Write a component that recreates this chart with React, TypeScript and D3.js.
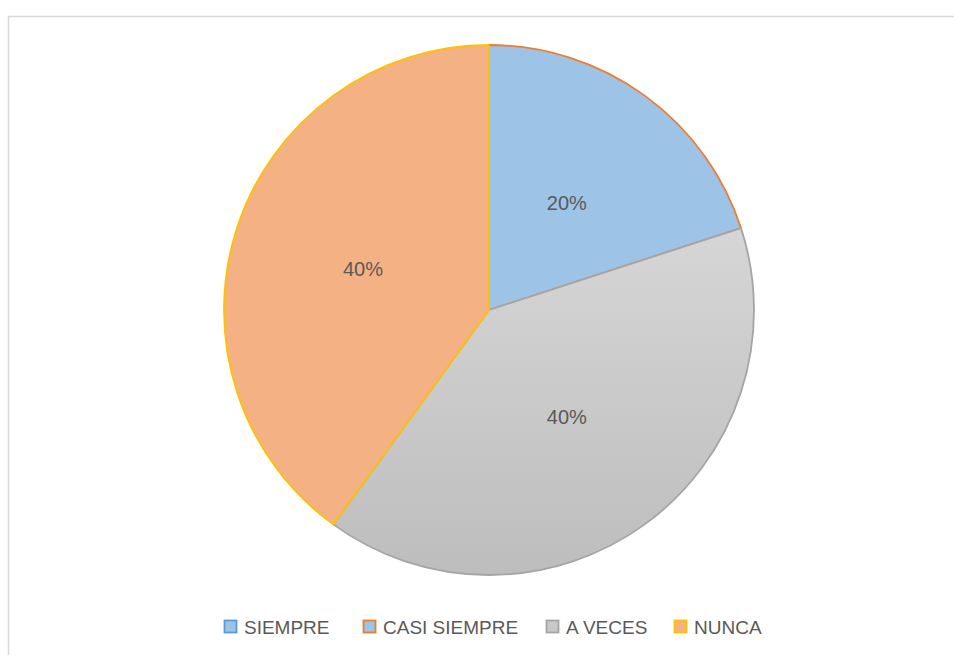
import React from "react";
import * as d3 from "d3";

const categories = ["SIEMPRE", "CASI SIEMPRE", "A VECES", "NUNCA"];
const values = [0, 20, 40, 40];
const labels = ["", "20%", "40%", "40%"];
const fills = ["#9dc3e6", "#9dc3e6", "url(#grayGrad)", "#f4b183"];
const strokes = ["#5b9bd5", "#ed7d31", "#a5a5a5", "#ffc000"];
const legendFills = ["#9dc3e6", "#9dc3e6", "#c9c9c9", "#f4b183"];

const W = 954;
const H = 655;
const cx = 489;
const cy = 310;
const R = 265;

export default function App() {
  const pie = d3.pie<number>().sort(null).value((d) => d)(values);
  const arc = d3.arc<d3.PieArcDatum<number>>().innerRadius(0).outerRadius(R);
  const labelArc = d3
    .arc<d3.PieArcDatum<number>>()
    .innerRadius(R * 0.5)
    .outerRadius(R * 0.5);

  const legendX = [224, 363, 546, 674];
  const legendY = 627;
  const font = "'Liberation Sans', Arial, sans-serif";

  return (
    <svg
      width={W}
      height={H}
      style={{ position: "absolute", left: 0, top: 0 }}
      fontFamily={font}
    >
      <defs>
        <linearGradient
          id="grayGrad"
          gradientUnits="userSpaceOnUse"
          x1="0"
          y1={-82}
          x2="0"
          y2={R}
        >
          <stop offset="0" stopColor="#d6d6d6" />
          <stop offset="1" stopColor="#bdbdbd" />
        </linearGradient>
      </defs>
      <rect x={0} y={0} width={W} height={H} fill="#ffffff" />
      <rect
        x={8.5}
        y={16.5}
        width={W + 20}
        height={H + 20}
        fill="#ffffff"
        stroke="#d9d9d9"
        strokeWidth={1.5}
      />
      <g transform={`translate(${cx},${cy})`}>
        {pie.map((p, i) => (
          <path
            key={categories[i]}
            d={arc(p) || ""}
            fill={fills[i]}
            stroke={strokes[i]}
            strokeWidth={1.8}
            strokeLinejoin="round"
          />
        ))}
        {pie.map((p, i) => {
          if (!labels[i]) return null;
          const [x, y] = labelArc.centroid(p);
          return (
            <text
              key={"l" + i}
              x={x}
              y={y}
              textAnchor="middle"
              dominantBaseline="central"
              fontSize={20}
              fill="#595959"
            >
              {labels[i]}
            </text>
          );
        })}
      </g>
      <g>
        {categories.map((c, i) => (
          <g key={"lg" + i} transform={`translate(${legendX[i]},${legendY})`}>
            <rect
              x={0.5}
              y={-6.5}
              width={12}
              height={12}
              fill={legendFills[i]}
              stroke={strokes[i]}
              strokeWidth={1.8}
            />
            <text
              x={20}
              y={0}
              dominantBaseline="central"
              fontSize={19}
              fill="#595959"
            >
              {c}
            </text>
          </g>
        ))}
      </g>
    </svg>
  );
}
